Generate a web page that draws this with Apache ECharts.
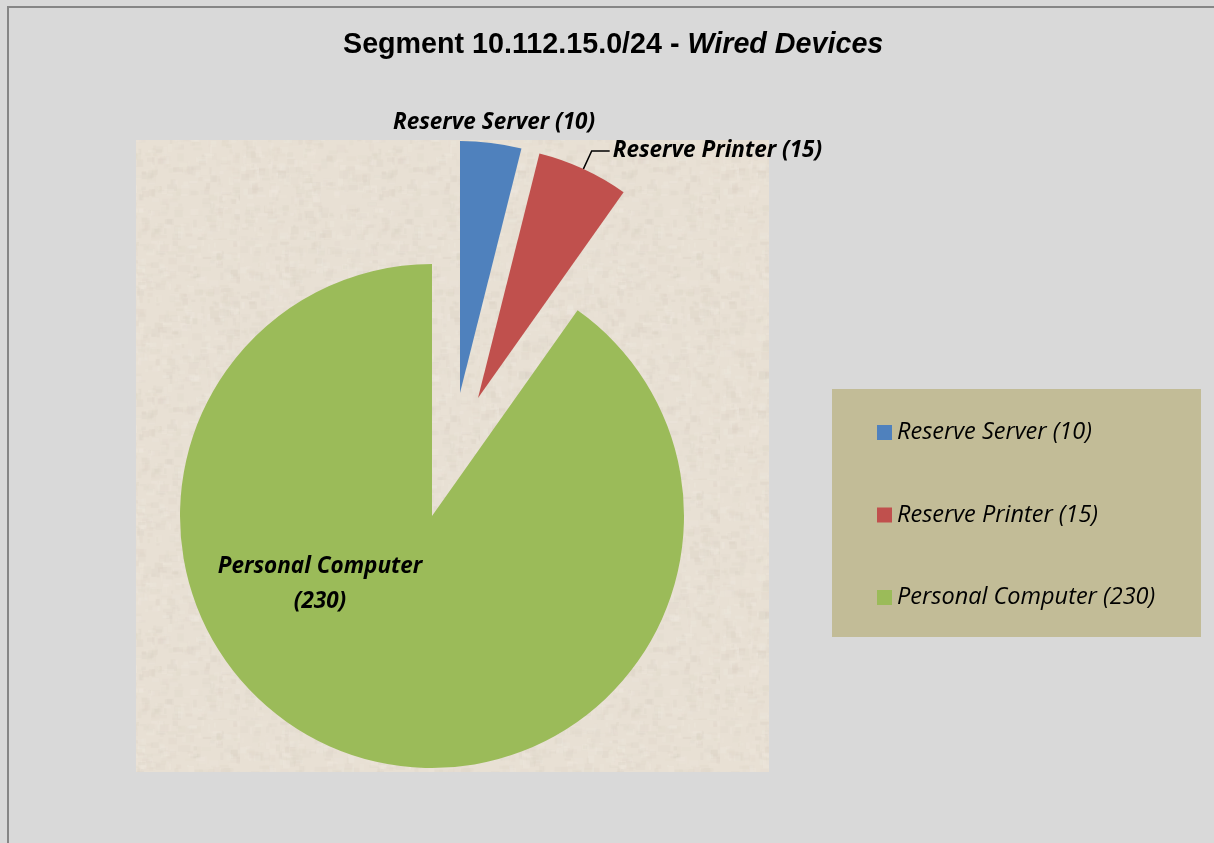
<!DOCTYPE html>
<html>
<head>
<meta charset="utf-8">
<script src="https://cdn.jsdelivr.net/npm/echarts@6/dist/echarts.min.js"></script>
<style>
  html, body { margin: 0; padding: 0; background: #d9d9d9; }
  #chart { width: 1214px; height: 843px; }
</style>
</head>
<body>
<div id="chart"></div>
<script>
// Device counts on the wired segment
const categories = ['Reserve Server', 'Reserve Printer', 'Personal Computer'];
const deviceCounts = [10, 15, 230];
const sliceColors = ['#4f81bd', '#c0504d', '#9bbb59'];

const titleMain = 'Segment 10.112.15.0/24 - ';
const titleItalic = 'Wired Devices';

const labelFont = '"Open Sans", Lato, sans-serif';

// Stone-like beige texture for the plot area (seeded so it renders the same every time)
function makeStoneTexture() {
  const c = document.createElement('canvas');
  c.width = 240; c.height = 240;
  const ctx = c.getContext('2d');
  ctx.fillStyle = '#e8e0d4';
  ctx.fillRect(0, 0, 240, 240);
  let s = 12345;
  const rnd = () => { s = (s * 1103515245 + 12345) & 0x7fffffff; return s / 0x7fffffff; };
  const tones = ['#ddd4c7', '#efe9df', '#e0d8cb', '#f0eae1', '#d8cfc2'];
  for (let i = 0; i < 1600; i++) {
    ctx.globalAlpha = 0.12 + rnd() * 0.2;
    ctx.fillStyle = tones[Math.floor(rnd() * tones.length)];
    const x = rnd() * 240, y = rnd() * 240;
    const w = 2 + rnd() * 8, h = 2 + rnd() * 6;
    ctx.fillRect(x, y, w, h);
  }
  ctx.globalAlpha = 1;
  return c;
}

const chart = echarts.init(document.getElementById('chart'), null, { renderer: 'canvas' });

// One pie layer per slice so each slice can sit at its own exploded position;
// every layer carries the full data so the angles stay proportional.
const layerCenters = [[460, 393], [478, 398], [432, 516]];
const pieRadius = 252;

function layerData(k) {
  return categories.map((name, i) => ({
    name: name,
    value: deviceCounts[i],
    itemStyle: { color: i === k ? sliceColors[i] : 'rgba(0,0,0,0)' },
    label: { show: i === k },
    labelLine: { show: i === k && k === 1 }
  }));
}

const labelPositions = {
  0: { x: 494, y: 123, align: 'center', verticalAlign: 'middle' },
  2: { x: 320, y: 584, align: 'center', verticalAlign: 'middle' }
};

const series = [0, 1, 2].map(k => ({
  type: 'pie',
  name: categories[k],
  center: layerCenters[k],
  radius: [0, pieRadius],
  startAngle: 90,
  clockwise: true,
  silent: true,
  animation: false,
  avoidLabelOverlap: false,
  z: 3,
  label: {
    position: k === 2 ? 'inside' : 'outside',
    formatter: k === 2 ? '{b}\n({c})' : '{b} ({c})',
    fontFamily: labelFont,
    fontStyle: 'italic',
    fontWeight: 'bold',
    fontSize: 22.5,
    lineHeight: 35,
    color: '#000',
    align: 'left',
    distanceToLabelLine: 3
  },
  labelLine: {
    length: 20,
    length2: 18,
    lineStyle: { color: '#000', width: 1.5 }
  },
  labelLayout: labelPositions[k] ? () => labelPositions[k] : undefined,
  data: layerData(k)
}));

const option = {
  backgroundColor: '#d9d9d9',
  title: {
    text: '{a|' + titleMain + '}{b|' + titleItalic + '}',
    left: 338,
    top: 26,
    textStyle: {
      rich: {
        a: { fontFamily: '"Liberation Sans", Arial, sans-serif', fontWeight: 'bold', fontSize: 28.7, color: '#000' },
        b: { fontFamily: '"Liberation Sans", Arial, sans-serif', fontWeight: 'bold', fontStyle: 'italic', fontSize: 28.7, color: '#000' }
      }
    }
  },
  graphic: [
    {
      type: 'rect',
      z: -10,
      shape: { x: 8, y: 7, width: 1230, height: 860 },
      style: { fill: '#d9d9d9', stroke: '#868686', lineWidth: 2 }
    },
    {
      type: 'rect',
      z: -5,
      shape: { x: 136, y: 140, width: 633, height: 632 },
      style: { fill: { image: makeStoneTexture(), repeat: 'repeat' } }
    },
    {
      type: 'rect',
      z: -5,
      shape: { x: 832, y: 389, width: 369, height: 248 },
      style: { fill: '#c2bc97' }
    }
  ],
  legend: {
    orient: 'vertical',
    left: 872,
    top: 416,
    itemWidth: 15,
    itemHeight: 15,
    itemGap: 59.5,
    icon: 'rect',
    selectedMode: false,
    formatter: name => name + ' (' + deviceCounts[categories.indexOf(name)] + ')',
    textStyle: {
      fontFamily: labelFont,
      fontStyle: 'italic',
      fontSize: 23.5,
      lineHeight: 21,
      color: '#000'
    },
    data: categories.map((name, i) => ({ name: name, itemStyle: { color: sliceColors[i] } }))
  },
  series: series
};

chart.setOption(option);
</script>
</body>
</html>
